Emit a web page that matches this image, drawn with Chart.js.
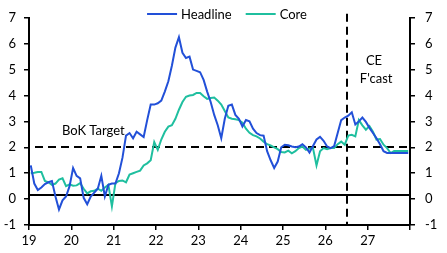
<!DOCTYPE html>
<html>
<head>
<meta charset="utf-8">
<script src="https://cdn.jsdelivr.net/npm/chart.js@4.4.1/dist/chart.umd.min.js"></script>
<style>
  html, body { margin: 0; padding: 0; background: #ffffff; }
  #wrap { width: 447px; height: 253px; }
</style>
</head>
<body>
<div id="wrap"><canvas id="c" width="447" height="253"></canvas></div>
<script>
// ---- Data (monthly, Jan 2019 - Dec 2027), % y/y ----
const START_YEAR = 2019;
const yearLabels = ['19', '20', '21', '22', '23', '24', '25', '26', '27'];
const seriesNames = ['Headline', 'Core'];

const headline = [
  // 2019
  1.3, 0.6, 0.35, 0.45, 0.58, 0.65, 0.7, 0.1, -0.4, -0.05, 0.1, 0.5,
  // 2020
  1.2, 0.9, 0.8, 0.05, -0.2, 0.1, 0.25, 0.4, 0.9, 0.1, 0.55, 0.6,
  // 2021
  0.6, 1.0, 1.6, 2.45, 2.55, 2.35, 2.6, 2.5, 2.4, 3.05, 3.65, 3.65,
  // 2022
  3.7, 3.8, 4.15, 4.55, 5.15, 5.85, 6.25, 5.65, 5.45, 5.5, 5.0, 4.95,
  // 2023
  4.9, 4.6, 4.15, 3.75, 3.25, 2.85, 2.35, 3.1, 3.6, 3.65, 3.25, 3.1,
  // 2024
  2.8, 3.05, 3.0, 2.72, 2.55, 2.47, 2.45, 1.85, 1.5, 1.2, 1.45, 2.0,
  // 2025
  2.1, 2.08, 2.03, 2.0, 2.03, 2.12, 2.0, 1.8, 2.05, 2.3, 2.4, 2.25,
  // 2026
  2.03, 1.97, 2.05, 2.55, 3.05, 3.15, 3.22, 3.35, 2.88, 3.0, 3.15, 2.98,
  // 2027
  2.75, 2.55, 2.35, 2.12, 1.85, 1.78, 1.78, 1.78, 1.78, 1.78, 1.78, 1.78
];

const core = [
  // 2019
  1.0, 1.02, 1.05, 1.05, 0.7, 0.65, 0.55, 0.6, 0.75, 0.8, 0.5, 0.57,
  // 2020
  0.52, 0.53, 0.62, 0.4, 0.22, 0.3, 0.32, 0.4, 0.32, 0.45, 0.55, -0.28,
  // 2021
  0.62, 0.7, 0.72, 0.65, 0.95, 1.0, 1.05, 1.1, 1.3, 1.38, 1.5, 2.2,
  // 2022
  1.9, 2.3, 2.6, 2.8, 2.85, 3.1, 3.45, 3.75, 3.95, 4.0, 4.02, 4.1,
  // 2023
  4.1, 3.97, 3.87, 3.9, 3.92, 3.8, 3.65, 3.4, 3.15, 3.1, 3.08, 3.05,
  // 2024
  2.95, 2.72, 2.56, 2.47, 2.42, 2.34, 2.22, 2.12, 2.07, 2.0, 1.93, 1.82,
  // 2025
  1.8, 1.87, 1.77, 1.85, 1.97, 2.03, 1.9, 1.95, 1.97, 1.3, 1.85, 1.97,
  // 2026
  1.93, 1.97, 1.97, 2.12, 2.22, 2.1, 2.45, 2.48, 2.42, 3.05, 2.85, 2.68,
  // 2027
  2.82, 2.6, 2.3, 2.32, 2.1, 1.97, 1.78, 1.86, 1.86, 1.86, 1.86, 1.86
];

// Reference levels / annotations
const TARGET_LEVEL = 2;        // BoK target
const BASE_LINE_LEVEL = 0.15;  // solid black horizontal line
const FORECAST_START = 2026.5; // start of CE forecast
const Y_MIN = -1, Y_MAX = 7;

const COLORS = { headline: '#2250d8', core: '#1fbf9f' };
const FONT = { family: 'Lato, "Open Sans", sans-serif', size: 13 };

const toPoints = arr => arr.map((v, i) => ({ x: START_YEAR + (i + 0.5) / 12, y: v }));

const annotate = {
  id: 'annotate',
  beforeDatasetsDraw(chart) {
    const { ctx, chartArea: a, scales } = chart;
    const x = scales.x, y = scales.y;
    ctx.save();
    ctx.strokeStyle = '#000';
    ctx.lineWidth = 2;
    // solid baseline
    let py = Math.round(y.getPixelForValue(BASE_LINE_LEVEL));
    ctx.beginPath(); ctx.moveTo(a.left, py); ctx.lineTo(a.right, py); ctx.stroke();
    // dashed target line
    ctx.setLineDash([8, 5]);
    py = Math.round(y.getPixelForValue(TARGET_LEVEL));
    ctx.beginPath(); ctx.moveTo(a.left + 6, py); ctx.lineTo(a.right, py); ctx.stroke();
    // dashed forecast line
    const px = Math.round(x.getPixelForValue(FORECAST_START));
    ctx.beginPath(); ctx.moveTo(px, a.top - 4); ctx.lineTo(px, a.bottom); ctx.stroke();
    ctx.restore();
  },
  afterDraw(chart) {
    const { ctx, scales } = chart;
    const x = scales.x, y = scales.y;
    ctx.save();
    ctx.fillStyle = '#000';
    ctx.font = `${FONT.size}px ${FONT.family}`;
    ctx.textAlign = 'center';
    ctx.textBaseline = 'middle';
    ctx.fillText('BoK Target', x.getPixelForValue(2020.52), y.getPixelForValue(2.65));
    ctx.fillText('CE', x.getPixelForValue(2027.15), y.getPixelForValue(5.35));
    ctx.fillText("F'cast", x.getPixelForValue(2027.2), y.getPixelForValue(4.65));

    // legend
    const items = chart.data.datasets.map(d => ({ label: d.label, color: d.borderColor }));
    const sample = 30, gapText = 4, gapItem = 14;
    let total = 0;
    items.forEach((it, k) => {
      it.w = ctx.measureText(it.label).width;
      total += sample + gapText + it.w + (k < items.length - 1 ? gapItem : 0);
    });
    let cx = 227 - total / 2;
    const ly = 14;
    ctx.textAlign = 'left';
    items.forEach(it => {
      ctx.strokeStyle = it.color; ctx.lineWidth = 2;
      ctx.beginPath(); ctx.moveTo(cx, ly); ctx.lineTo(cx + sample, ly); ctx.stroke();
      cx += sample + gapText;
      ctx.fillText(it.label, cx, ly + 1);
      cx += it.w + gapItem;
    });
    ctx.restore();
  }
};

const axisGrid = { drawOnChartArea: false, drawTicks: true, tickLength: 5, color: '#000', lineWidth: 1.5 };
const axisBorder = { display: true, color: '#000', width: 2 };

new Chart(document.getElementById('c'), {
  type: 'line',
  data: {
    datasets: [
      { label: seriesNames[0], data: toPoints(headline), borderColor: COLORS.headline, borderWidth: 2, pointRadius: 0, tension: 0, yAxisID: 'y' },
      { label: seriesNames[1], data: toPoints(core), borderColor: COLORS.core, borderWidth: 2, pointRadius: 0, tension: 0, yAxisID: 'y' }
    ]
  },
  options: {
    responsive: false,
    animation: false,
    devicePixelRatio: 1,
    layout: { padding: { top: 14, left: 0, right: 0, bottom: 0 } },
    plugins: { legend: { display: false }, tooltip: { enabled: false } },
    scales: {
      x: {
        type: 'linear', min: START_YEAR, max: START_YEAR + yearLabels.length,
        ticks: {
          stepSize: 1, autoSkip: false, maxRotation: 0, color: '#000', font: FONT, padding: 3,
          callback: v => yearLabels[v - START_YEAR] ?? ''
        },
        grid: axisGrid, border: axisBorder,
        afterFit: s => { s.height = 28; }
      },
      y: {
        position: 'left', min: Y_MIN, max: Y_MAX,
        ticks: { stepSize: 1, color: '#000', font: FONT, padding: 8 },
        grid: axisGrid, border: axisBorder,
        afterFit: s => { s.width = 29; }
      },
      y2: {
        position: 'right', min: Y_MIN, max: Y_MAX,
        ticks: { stepSize: 1, color: '#000', font: FONT, padding: 10 },
        grid: axisGrid, border: axisBorder,
        afterFit: s => { s.width = 37; }
      }
    }
  },
  plugins: [annotate]
});
</script>
</body>
</html>
